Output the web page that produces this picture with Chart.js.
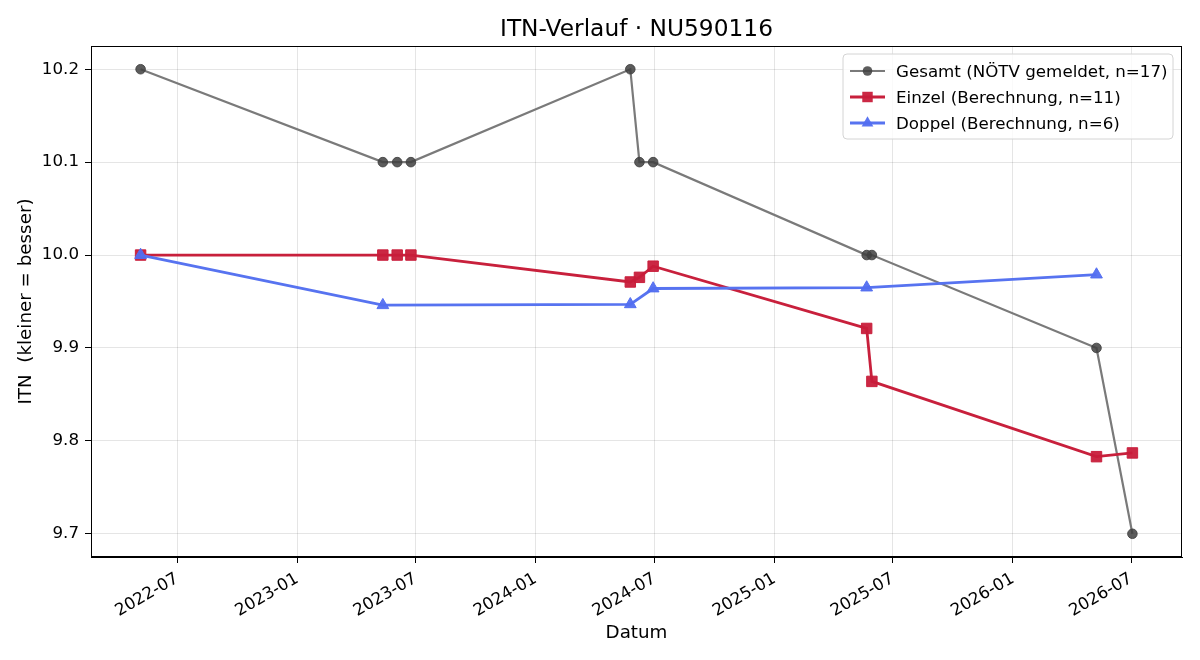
<!DOCTYPE html>
<html>
<head>
<meta charset="utf-8">
<script src="https://cdn.jsdelivr.net/npm/chart.js@4.4.1/dist/chart.umd.min.js"></script>
<style>
  html, body { margin: 0; padding: 0; background: #fff; }
  #wrap { width: 1200px; height: 660px; }
</style>
</head>
<body>
<div id="wrap"><canvas id="itn" width="1200" height="660"></canvas></div>
<script>
// Daten
const gesamtDates  = ['2022-05-06', '2023-05-12', '2023-06-03', '2023-06-24', '2024-05-25', '2024-06-08', '2024-06-29', '2025-05-22', '2025-05-30', '2026-05-09', '2026-07-03'];
const gesamtValues = [10.2, 10.1, 10.1, 10.1, 10.2, 10.1, 10.1, 10.0, 10.0, 9.9, 9.7];

const einzelDates  = ['2022-05-06', '2023-05-12', '2023-06-03', '2023-06-24', '2024-05-25', '2024-06-08', '2024-06-29', '2025-05-22', '2025-05-30', '2026-05-09', '2026-07-03'];
const einzelValues = [10.0, 10.0, 10.0, 10.0, 9.971, 9.976, 9.988, 9.921, 9.864, 9.783, 9.787];

const doppelDates  = ['2022-05-06', '2023-05-12', '2024-05-25', '2024-06-29', '2025-05-22', '2026-05-09'];
const doppelValues = [10.0, 9.946, 9.947, 9.964, 9.965, 9.979];

const xTickLabels = ['2022-07', '2023-01', '2023-07', '2024-01', '2024-07', '2025-01', '2025-07', '2026-01', '2026-07'];
const yTickLabels = ['9.7', '9.8', '9.9', '10.0', '10.1', '10.2'];

const FONT = 'DejaVu Sans';

// Datum -> Tage seit 1970
function toDay(s) {
    const p = s.split('-').map(Number);
    return Date.UTC(p[0], p[1] - 1, p[2] || 1) / 86400000;
}

function fmtMonth(day) {
    const d = new Date(day * 86400000);
    return d.getUTCFullYear() + '-' + String(d.getUTCMonth() + 1).padStart(2, '0');
}

function points(dates, values) {
    return dates.map((d, i) => ({ x: toDay(d), y: values[i] }));
}

// Achsenbereich wie matplotlib (5 % Rand)
const allX = [...gesamtDates, ...einzelDates, ...doppelDates].map(toDay);
const allY = [...gesamtValues, ...einzelValues, ...doppelValues];
const xMinD = Math.min(...allX), xMaxD = Math.max(...allX);
const yMinD = Math.min(...allY), yMaxD = Math.max(...allY);
const xPad = (xMaxD - xMinD) * 0.05, yPad = (yMaxD - yMinD) * 0.05;

const xTicks = xTickLabels.map(toDay);
const yTicks = yTickLabels.map(Number);

const series = [
    { label: 'Gesamt (NÖTV gemeldet, n=17)', line: '#7a7a7a', point: 'rgba(64,64,64,0.85)', style: 'circle', radius: 4.8, width: 2.2 },
    { label: 'Einzel (Berechnung, n=11)', line: '#c8203c', point: 'rgba(200,28,58,0.95)', style: 'rect', radius: 7.4, width: 2.8 },
    { label: 'Doppel (Berechnung, n=6)', line: '#5773f0', point: 'rgba(82,110,240,0.95)', style: 'triangle', radius: 6.8, width: 2.8 }
];

// Titel, Rahmen und Legende
const extras = {
    id: 'extras',
    afterDraw(chart) {
        const ctx = chart.ctx;
        const a = chart.chartArea;
        ctx.save();
        // Titel
        ctx.fillStyle = '#000';
        ctx.font = '23.3px "' + FONT + '"';
        ctx.textAlign = 'center';
        ctx.textBaseline = 'alphabetic';
        ctx.fillText('ITN-Verlauf · NU590116', (a.left + a.right) / 2, 36);

        // Rahmen
        ctx.strokeStyle = '#000';
        ctx.lineWidth = 1;
        ctx.strokeRect(a.left + 0.5, a.top + 0.5, a.right - a.left - 1, a.bottom - a.top - 1);

        // Legende
        const bx = 843, by = 54, bw = 330, bh = 85, r = 4;
        ctx.beginPath();
        ctx.moveTo(bx + r, by);
        ctx.arcTo(bx + bw, by, bx + bw, by + bh, r);
        ctx.arcTo(bx + bw, by + bh, bx, by + bh, r);
        ctx.arcTo(bx, by + bh, bx, by, r);
        ctx.arcTo(bx, by, bx + bw, by, r);
        ctx.closePath();
        ctx.fillStyle = 'rgba(255,255,255,0.8)';
        ctx.fill();
        ctx.strokeStyle = '#d4d4d4';
        ctx.stroke();

        const rows = [71, 97, 123];
        series.forEach((s, i) => {
            const y = rows[i];
            ctx.strokeStyle = s.line;
            ctx.lineWidth = s.width;
            ctx.beginPath();
            ctx.moveTo(850, y);
            ctx.lineTo(885, y);
            ctx.stroke();
            ctx.fillStyle = s.point;
            const cx = 867.5;
            ctx.beginPath();
            if (s.style === 'circle') {
                ctx.arc(cx, y, s.radius, 0, Math.PI * 2);
            } else if (s.style === 'rect') {
                const h = s.radius * Math.SQRT1_2;
                ctx.rect(cx - h, y - h, 2 * h, 2 * h);
            } else {
                ctx.moveTo(cx, y - s.radius);
                ctx.lineTo(cx + s.radius * 0.866, y + s.radius / 2);
                ctx.lineTo(cx - s.radius * 0.866, y + s.radius / 2);
                ctx.closePath();
            }
            ctx.fill();
            ctx.fillStyle = '#000';
            ctx.font = '16.7px "' + FONT + '"';
            ctx.textAlign = 'left';
            ctx.fillText(s.label, 896, y + 6);
        });
        ctx.restore();
    }
};

const datasets = [
    [gesamtDates, gesamtValues],
    [einzelDates, einzelValues],
    [doppelDates, doppelValues]
].map((d, i) => {
    const s = series[i];
    return {
        label: s.label,
        data: points(d[0], d[1]),
        borderColor: s.line,
        borderWidth: s.width,
        backgroundColor: s.point,
        pointBackgroundColor: s.point,
        pointBorderColor: s.point,
        pointBorderWidth: 1,
        pointStyle: s.style,
        pointRadius: s.radius,
        pointHoverRadius: s.radius,
        tension: 0,
        fill: false,
        order: 3 - i
    };
});

const tickFont = { family: FONT, size: 16.7 };
const labelFont = { family: FONT, size: 18.3 };

new Chart(document.getElementById('itn').getContext('2d'), {
    type: 'line',
    data: { datasets: datasets },
    plugins: [extras],
    options: {
        responsive: false,
        devicePixelRatio: 1,
        animation: false,
        layout: { padding: { top: 46, right: 18, left: 0, bottom: 0 } },
        plugins: {
            legend: { display: false },
            title: { display: false },
            tooltip: { enabled: false }
        },
        scales: {
            x: {
                type: 'linear',
                min: xMinD - xPad,
                max: xMaxD + xPad,
                afterBuildTicks: scale => { scale.ticks = xTicks.map(v => ({ value: v })); },
                afterFit: scale => { scale.height = 103; },
                ticks: {
                    callback: v => fmtMonth(v),
                    autoSkip: false,
                    maxRotation: 30,
                    minRotation: 30,
                    color: '#000',
                    font: tickFont,
                    padding: 6
                },
                grid: { color: 'rgba(0,0,0,0.1)', tickColor: '#000', tickLength: 6, lineWidth: 1 },
                border: { color: '#000', width: 1 },
                title: { display: true, text: 'Datum', color: '#000', font: labelFont, padding: { top: 0, bottom: 16 } }
            },
            y: {
                type: 'linear',
                min: yMinD - yPad,
                max: yMaxD + yPad,
                afterBuildTicks: scale => { scale.ticks = yTicks.map(v => ({ value: v })); },
                afterFit: scale => { scale.width = 91; },
                ticks: {
                    callback: v => v.toFixed(1),
                    color: '#000',
                    font: tickFont,
                    padding: 6
                },
                grid: { color: 'rgba(0,0,0,0.1)', tickColor: '#000', tickLength: 6, lineWidth: 1 },
                border: { color: '#000', width: 1 },
                title: { display: true, text: 'ITN  (kleiner = besser)', color: '#000', font: labelFont, padding: { top: 15, bottom: 0 } }
            }
        }
    }
});
</script>
</body>
</html>
